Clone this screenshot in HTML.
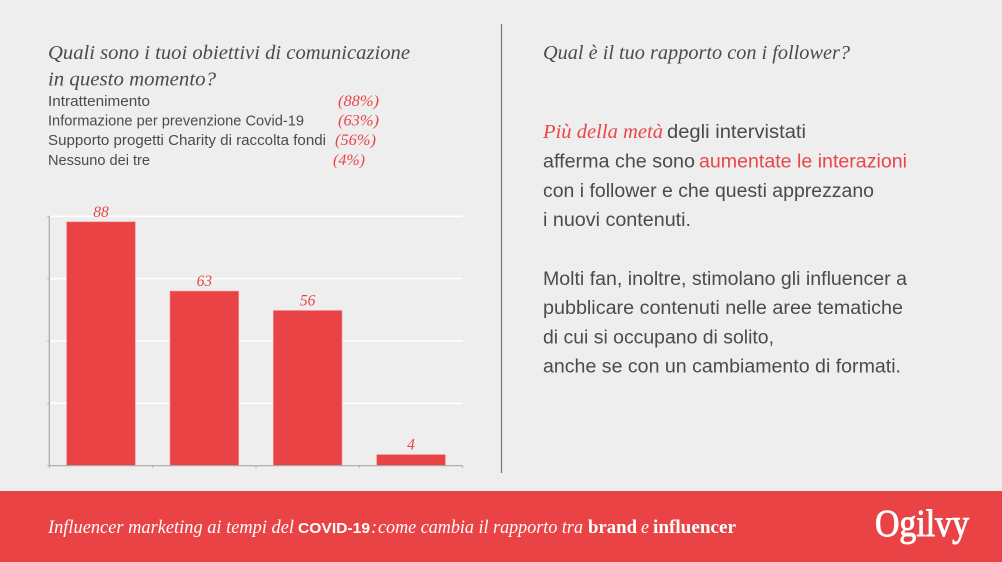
<!DOCTYPE html>
<html lang="it">
<head>
<meta charset="utf-8">
<title>Influencer marketing ai tempi del COVID-19</title>
<style>
  html, body { margin: 0; padding: 0; background: #eeeeee; }
  #slide { display: block; width: 1002px; height: 562px; }
  .serif-i { font-family: "Liberation Serif", serif; font-style: italic; }
  .sans { font-family: "Liberation Sans", sans-serif; }
  .dark { fill: #4b4b4b; }
  .red { fill: #ea4548; }
</style>
</head>
<body>
<svg id="slide" xmlns="http://www.w3.org/2000/svg" width="1002" height="562" viewBox="0 0 1002 562">
  <rect x="0" y="0" width="1002" height="562" fill="#eeeeee"/>

  <g class="serif-i dark" font-size="20.5">
    <text x="48" y="59" textLength="362" lengthAdjust="spacingAndGlyphs">Quali sono i tuoi obiettivi di comunicazione</text>
    <text x="48" y="85.5" textLength="168" lengthAdjust="spacingAndGlyphs">in questo momento?</text>
  </g>

  <g class="sans dark" font-size="14.5">
    <text x="48" y="106" textLength="102" lengthAdjust="spacingAndGlyphs">Intrattenimento</text>
    <text x="48" y="125.5" textLength="256" lengthAdjust="spacingAndGlyphs">Informazione per prevenzione Covid-19</text>
    <text x="48" y="145" textLength="278" lengthAdjust="spacingAndGlyphs">Supporto progetti Charity di raccolta fondi</text>
    <text x="48" y="165" textLength="102" lengthAdjust="spacingAndGlyphs">Nessuno dei tre</text>
  </g>
  <g class="serif-i red" font-size="15.5">
    <text x="338" y="106" textLength="41" lengthAdjust="spacingAndGlyphs">(88%)</text>
    <text x="338" y="125.5" textLength="41" lengthAdjust="spacingAndGlyphs">(63%)</text>
    <text x="335" y="145" textLength="41" lengthAdjust="spacingAndGlyphs">(56%)</text>
    <text x="333" y="165" textLength="32" lengthAdjust="spacingAndGlyphs">(4%)</text>
  </g>

  <g id="chart"></g>

  <line x1="501.5" y1="24" x2="501.5" y2="473" stroke="#777777" stroke-width="1.2"/>

  <text class="serif-i dark" font-size="20.5" x="543" y="59" textLength="307" lengthAdjust="spacingAndGlyphs">Qual è il tuo rapporto con i follower?</text>

  <g class="sans dark" font-size="19">
    <text class="serif-i red" font-size="20.5" x="543" y="138" textLength="120" lengthAdjust="spacingAndGlyphs">Più della metà</text>
    <text x="667" y="138" textLength="139" lengthAdjust="spacingAndGlyphs">degli intervistati</text>
    <text x="543" y="167.5" textLength="152" lengthAdjust="spacingAndGlyphs">afferma che sono</text>
    <text class="red" x="699" y="167.5" textLength="208" lengthAdjust="spacingAndGlyphs">aumentate le interazioni</text>
    <text x="543" y="197" textLength="331" lengthAdjust="spacingAndGlyphs">con i follower e che questi apprezzano</text>
    <text x="543" y="226" textLength="148" lengthAdjust="spacingAndGlyphs">i nuovi contenuti.</text>
  </g>
  <g class="sans dark" font-size="19">
    <text x="543" y="285" textLength="364" lengthAdjust="spacingAndGlyphs">Molti fan, inoltre, stimolano gli influencer a</text>
    <text x="543" y="314" textLength="360" lengthAdjust="spacingAndGlyphs">pubblicare contenuti nelle aree tematiche</text>
    <text x="543" y="343.5" textLength="231" lengthAdjust="spacingAndGlyphs">di cui si occupano di solito,</text>
    <text x="543" y="372.5" textLength="358" lengthAdjust="spacingAndGlyphs">anche se con un cambiamento di formati.</text>
  </g>

  <rect x="0" y="491" width="1002" height="71" fill="#e94345"/>
  <g fill="#ffffff" font-size="18.5">
    <text class="serif-i" x="48" y="533" textLength="246" lengthAdjust="spacingAndGlyphs">Influencer marketing ai tempi del</text>
    <text class="sans" font-weight="700" font-size="15" x="298" y="533" textLength="72" lengthAdjust="spacingAndGlyphs">COVID-19</text>
    <text class="serif-i" x="371" y="533">:</text>
    <text class="serif-i" x="378" y="533" textLength="205" lengthAdjust="spacingAndGlyphs">come cambia il rapporto tra</text>
    <text font-family="'Liberation Serif', serif" font-weight="700" x="588" y="533" textLength="49" lengthAdjust="spacingAndGlyphs">brand</text>
    <text class="serif-i" x="641" y="533" textLength="8" lengthAdjust="spacingAndGlyphs">e</text>
    <text font-family="'Liberation Serif', serif" font-weight="700" x="653" y="533" textLength="83" lengthAdjust="spacingAndGlyphs">influencer</text>
  </g>
  <text font-family="'Liberation Serif', serif" font-size="38" fill="#ffffff" stroke="#ffffff" stroke-width="0.9" x="875" y="536" textLength="94" lengthAdjust="spacingAndGlyphs">Ogilvy</text>
</svg>

<script>
const categories = ["Intrattenimento", "Informazione per prevenzione Covid-19", "Supporto progetti Charity di raccolta fondi", "Nessuno dei tre"];
const seriesValues = [88, 63, 56, 4];
const yTicks = [0, 22.5, 45, 67.5, 90];

const NS = "http://www.w3.org/2000/svg";
const chart = document.getElementById("chart");
const plot = { left: 49.3, right: 462.7, top: 216.3, bottom: 465.7 };
const yMax = yTicks[yTicks.length - 1];
const band = (plot.right - plot.left) / categories.length;
const barWidth = band * 0.664;

function yScale(v) { return plot.bottom - (v / yMax) * (plot.bottom - plot.top); }
function xBand(i) { return plot.left + i * band; }
function make(tag, attrs) {
  const el = document.createElementNS(NS, tag);
  for (const k in attrs) el.setAttribute(k, attrs[k]);
  chart.appendChild(el);
  return el;
}

yTicks.forEach(function (t, i) {
  if (t !== 0) {
    const grid = make("line", { x1: plot.left, x2: plot.right, y1: yScale(t), y2: yScale(t), stroke: "#ffffff", "stroke-width": 1.6 });
    
    
  }
  const tick = make("line", { x1: plot.left - 2, x2: plot.left, y1: yScale(t), y2: yScale(t), stroke: "#a9a9a9", "stroke-width": 1 });
  
  
});

for (let i = 0; i <= categories.length; i++) {
  const tick = make("line", { x1: xBand(i), x2: xBand(i), y1: plot.bottom, y2: plot.bottom + 2, stroke: "#a9a9a9", "stroke-width": 1 });
  
  
}

seriesValues.forEach(function (v, i) {
  const cx = xBand(i) + band / 2;
  const bar = make("rect", { x: cx - barWidth / 2, y: yScale(v), width: barWidth, height: plot.bottom - yScale(v), fill: "#e94345", stroke: "#f08a8c", "stroke-width": 0.6 });
  
  
  const title = document.createElementNS(NS, "title");
  title.textContent = categories[i] + ": " + v;
  bar.appendChild(title);

  const label = make("text", { x: cx, y: yScale(v) - 5, "text-anchor": "middle", "font-size": 15.5, "font-family": "'Liberation Serif', serif", "font-style": "italic", fill: "#ea4548" });
  
  
  label.textContent = v;
});

const yAxis = make("line", { x1: plot.left, x2: plot.left, y1: plot.top, y2: plot.bottom, stroke: "#a9a9a9", "stroke-width": 1.2 });


const xAxis = make("line", { x1: plot.left, x2: plot.right, y1: plot.bottom, y2: plot.bottom, stroke: "#a9a9a9", "stroke-width": 1.2 });


</script>
</body>
</html>
